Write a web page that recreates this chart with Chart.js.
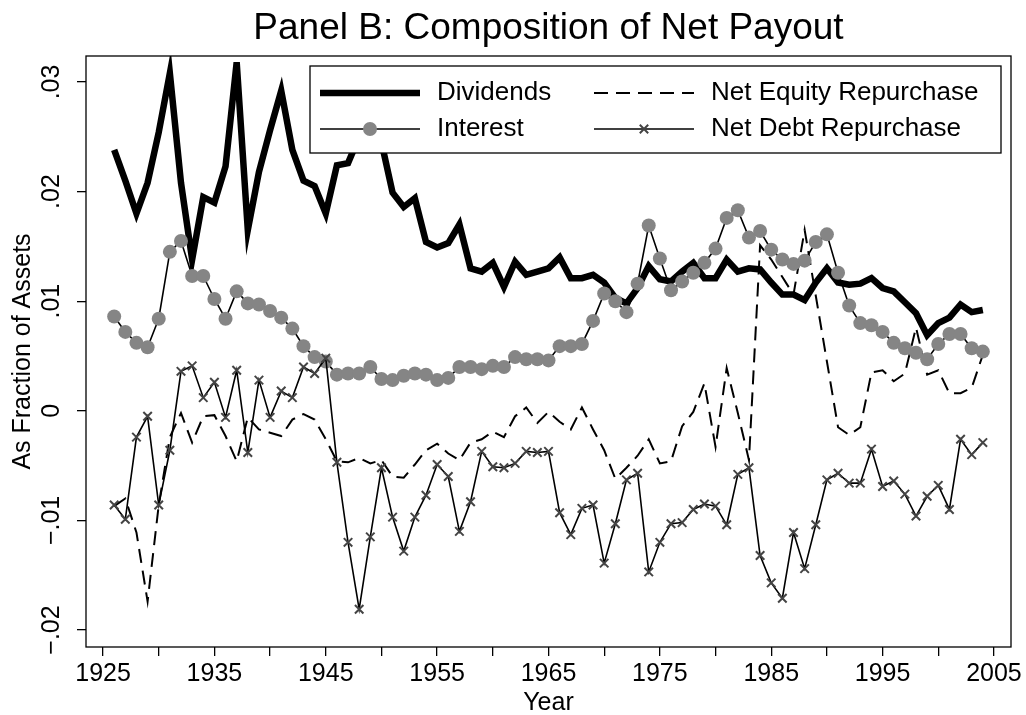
<!DOCTYPE html>
<html>
<head>
<meta charset="utf-8">
<title>Panel B: Composition of Net Payout</title>
<script src="https://cdn.jsdelivr.net/npm/chart.js@4.4.1/dist/chart.umd.min.js"></script>
<style>
  html, body { margin: 0; padding: 0; background: #fff; }
  #wrap { width: 1026px; height: 715px; }
</style>
</head>
<body>
<div id="wrap"><canvas id="payout"></canvas></div>
<script>
document.addEventListener('DOMContentLoaded', function() {
    // Data (fraction of assets)
    const years = [1926, 1927, 1928, 1929, 1930, 1931, 1932, 1933, 1934, 1935,
        1936, 1937, 1938, 1939, 1940, 1941, 1942, 1943, 1944, 1945,
        1946, 1947, 1948, 1949, 1950, 1951, 1952, 1953, 1954, 1955,
        1956, 1957, 1958, 1959, 1960, 1961, 1962, 1963, 1964, 1965,
        1966, 1967, 1968, 1969, 1970, 1971, 1972, 1973, 1974, 1975,
        1976, 1977, 1978, 1979, 1980, 1981, 1982, 1983, 1984, 1985,
        1986, 1987, 1988, 1989, 1990, 1991, 1992, 1993, 1994, 1995,
        1996, 1997, 1998, 1999, 2000, 2001, 2002, 2003, 2004];

    const dividends = [0.0238, 0.0210, 0.0180, 0.0208, 0.0254, 0.0308, 0.0208, 0.0138, 0.0195, 0.0190,
        0.0223, 0.0318, 0.0165, 0.0218, 0.0256, 0.0292, 0.0238, 0.0210, 0.0205, 0.0180,
        0.0224, 0.0226, 0.0250, 0.0270, 0.0245, 0.0199, 0.0186, 0.0194, 0.0154, 0.0149,
        0.0153, 0.0170, 0.0130, 0.0127, 0.0135, 0.0113, 0.0136, 0.0124, 0.0127, 0.0130,
        0.0140, 0.0121, 0.0121, 0.0124, 0.0117, 0.0103, 0.0098, 0.0112, 0.0132, 0.0120,
        0.0118, 0.0127, 0.0135, 0.0121, 0.0121, 0.0138, 0.0127, 0.0130, 0.0129, 0.0117,
        0.0106, 0.0106, 0.0101, 0.0117, 0.0130, 0.0117, 0.0115, 0.0116, 0.0121, 0.0112,
        0.0109, 0.0099, 0.0089, 0.0069, 0.0080, 0.0085, 0.0097, 0.0090, 0.0092];

    const netEquity = [-0.0087, -0.0080, -0.0111, -0.0174, -0.0086, -0.0024, -0.0002, -0.0029, -0.0005, -0.0004,
        -0.0023, -0.0046, -0.0006, -0.0017, -0.0020, -0.0023, -0.0008, -0.0003, -0.0008, -0.0026,
        -0.0046, -0.0047, -0.0043, -0.0048, -0.0045, -0.0060, -0.0061, -0.0049, -0.0036, -0.0030,
        -0.0039, -0.0045, -0.0029, -0.0026, -0.0019, -0.0024, -0.0005, 0.0003, -0.0011, -0.0001,
        -0.0010, -0.0017, 0.0003, -0.0017, -0.0036, -0.0062, -0.0052, -0.0041, -0.0026, -0.0048,
        -0.0046, -0.0014, -0.0001, 0.0025, -0.0033, 0.0039, -0.0002, -0.0045, 0.0151, 0.0138,
        0.0122, 0.0106, 0.0165, 0.0105, 0.0045, -0.0015, -0.0022, -0.0015, 0.0035, 0.0037,
        0.0027, 0.0034, 0.0076, 0.0033, 0.0037, 0.0016, 0.0016, 0.0021, 0.0051];

    const interest = [0.0086, 0.0072, 0.0062, 0.0058, 0.0084, 0.0145, 0.0155, 0.0123, 0.0123, 0.0102,
        0.0084, 0.0109, 0.0098, 0.0097, 0.0091, 0.0085, 0.0075, 0.0059, 0.0049, 0.0045,
        0.0033, 0.0034, 0.0034, 0.0040, 0.0029, 0.0028, 0.0032, 0.0034, 0.0033, 0.0028,
        0.0030, 0.0040, 0.0040, 0.0038, 0.0041, 0.0040, 0.0049, 0.0047, 0.0047, 0.0046,
        0.0059, 0.0059, 0.0061, 0.0082, 0.0107, 0.0100, 0.0090, 0.0116, 0.0169, 0.0139,
        0.0110, 0.0118, 0.0126, 0.0135, 0.0148, 0.0176, 0.0183, 0.0158, 0.0164, 0.0147,
        0.0138, 0.0134, 0.0137, 0.0154, 0.0161, 0.0126, 0.0096, 0.0080, 0.0078, 0.0072,
        0.0062, 0.0057, 0.0053, 0.0047, 0.0061, 0.0070, 0.0070, 0.0057, 0.0054];

    const netDebt = [-0.0086, -0.0099, -0.0024, -0.0005, -0.0086, -0.0036, 0.0036, 0.0041, 0.0012, 0.0026,
        -0.0006, 0.0037, -0.0038, 0.0028, -0.0006, 0.0018, 0.0012, 0.0040, 0.0034, 0.0048,
        -0.0047, -0.0120, -0.0181, -0.0115, -0.0052, -0.0097, -0.0128, -0.0097, -0.0077, -0.0049,
        -0.0060, -0.0110, -0.0083, -0.0037, -0.0051, -0.0052, -0.0048, -0.0037, -0.0038, -0.0037,
        -0.0093, -0.0113, -0.0089, -0.0086, -0.0139, -0.0103, -0.0063, -0.0057, -0.0147, -0.0120,
        -0.0103, -0.0102, -0.0090, -0.0085, -0.0087, -0.0104, -0.0058, -0.0052, -0.0132, -0.0157,
        -0.0171, -0.0111, -0.0144, -0.0104, -0.0063, -0.0057, -0.0066, -0.0066, -0.0035, -0.0069,
        -0.0064, -0.0076, -0.0096, -0.0078, -0.0068, -0.0090, -0.0026, -0.0040, -0.0029];

    const xTicks = [1925, 1930, 1935, 1940, 1945, 1950, 1955, 1960, 1965, 1970, 1975, 1980, 1985, 1990, 1995, 2000, 2005];
    const xTickLabels = ['1925', '', '1935', '', '1945', '', '1955', '', '1965', '', '1975', '', '1985', '', '1995', '', '2005'];
    const yTicks = [-0.02, -0.01, 0, 0.01, 0.02, 0.03];
    const yTickLabels = ['\u2212.02', '\u2212.01', '0', '.01', '.02', '.03'];

    function points(values) {
        return values.map((v, i) => ({ x: years[i], y: v }));
    }

    Chart.defaults.font.family = "'Liberation Sans', Arial, sans-serif";
    Chart.defaults.color = '#000';

    // plot region border
    const framePlugin = {
        id: 'frame',
        afterDatasetsDraw(chart) {
            const { ctx, chartArea: a } = chart;
            ctx.save();
            ctx.strokeStyle = '#000';
            ctx.lineWidth = 1.3;
            ctx.strokeRect(a.left, a.top, a.right - a.left, a.bottom - a.top);
            ctx.restore();
        }
    };

    // Stata-style boxed legend, 2 columns, inside the plot
    const boxLegend = {
        id: 'boxLegend',
        afterDraw(chart) {
            const ctx = chart.ctx;
            const box = { left: 310, top: 66, right: 1001, bottom: 153 };
            const cells = [[320, 93], [594, 93], [320, 129], [594, 129]];
            ctx.save();
            ctx.fillStyle = '#fff';
            ctx.fillRect(box.left, box.top, box.right - box.left, box.bottom - box.top);
            ctx.strokeStyle = '#000';
            ctx.lineWidth = 1.3;
            ctx.strokeRect(box.left, box.top, box.right - box.left, box.bottom - box.top);
            chart.data.datasets.forEach((ds, i) => {
                const [x, y] = cells[i];
                ctx.strokeStyle = ds.borderColor;
                ctx.lineWidth = ds.borderWidth;
                ctx.setLineDash(ds.borderDash || []);
                ctx.beginPath();
                ctx.moveTo(x, y);
                ctx.lineTo(x + 100, y);
                ctx.stroke();
                ctx.setLineDash([]);
                const mx = x + 50;
                if (ds.pointStyle === 'circle') {
                    ctx.fillStyle = ds.pointBackgroundColor;
                    ctx.beginPath();
                    ctx.arc(mx, y, ds.pointRadius, 0, Math.PI * 2);
                    ctx.fill();
                } else if (ds.pointStyle === 'crossRot') {
                    const r = ds.pointRadius * 0.7;
                    ctx.strokeStyle = ds.pointBorderColor;
                    ctx.lineWidth = ds.pointBorderWidth;
                    ctx.beginPath();
                    ctx.moveTo(mx - r, y - r); ctx.lineTo(mx + r, y + r);
                    ctx.moveTo(mx - r, y + r); ctx.lineTo(mx + r, y - r);
                    ctx.stroke();
                }
                ctx.fillStyle = '#000';
                ctx.font = "26px 'Liberation Sans', Arial, sans-serif";
                ctx.textBaseline = 'middle';
                ctx.textAlign = 'left';
                ctx.fillText(ds.label, x + 117, y);
            });
            ctx.restore();
        }
    };

    const ctx = document.getElementById('payout').getContext('2d');

    new Chart(ctx, {
        type: 'line',
        data: {
            datasets: [{
                label: 'Dividends',
                data: points(dividends),
                borderColor: '#000',
                borderWidth: 6.5,
                pointRadius: 0,
                clip: 0,
                order: 4
            }, {
                label: 'Net Equity Repurchase',
                data: points(netEquity),
                borderColor: '#000',
                borderWidth: 2,
                borderDash: [14, 8],
                pointRadius: 0,
                order: 3
            }, {
                label: 'Interest',
                data: points(interest),
                borderColor: '#000',
                borderWidth: 1.6,
                pointStyle: 'circle',
                pointRadius: 7,
                pointBackgroundColor: '#858585',
                pointBorderColor: '#858585',
                pointBorderWidth: 0,
                order: 2
            }, {
                label: 'Net Debt Repurchase',
                data: points(netDebt),
                borderColor: '#000',
                borderWidth: 1.6,
                pointStyle: 'crossRot',
                pointRadius: 6,
                pointBorderColor: '#444',
                pointBorderWidth: 2,
                order: 1
            }]
        },
        options: {
            responsive: true,
            maintainAspectRatio: false,
            animation: false,
            layout: { padding: { top: 0, right: 15, bottom: 0, left: 0 } },
            plugins: {
                legend: { display: false },
                tooltip: { enabled: false },
                title: {
                    display: true,
                    fullSize: false,
                    text: 'Panel B: Composition of Net Payout',
                    color: '#000',
                    font: { size: 37, weight: 'normal' },
                    padding: { top: 7, bottom: 4.6 }
                }
            },
            scales: {
                x: {
                    type: 'linear',
                    min: 1923.47,
                    max: 2006.53,
                    afterBuildTicks: s => { s.ticks = xTicks.map(v => ({ value: v })); },
                    afterFit: s => { s.height = 68; s.paddingLeft = 0; s.paddingRight = 0; },
                    ticks: {
                        autoSkip: false,
                        maxRotation: 0,
                        color: '#000',
                        font: { size: 25 },
                        padding: 3,
                        callback: (v, i) => xTickLabels[i]
                    },
                    grid: { drawOnChartArea: false, drawTicks: true, tickLength: 9, color: '#000', lineWidth: 1.3 },
                    border: { display: false },
                    title: { display: true, text: 'Year', color: '#000', font: { size: 25 }, padding: { top: 0, bottom: -3 } }
                },
                y: {
                    type: 'linear',
                    min: -0.02155,
                    max: 0.03237,
                    afterBuildTicks: s => { s.ticks = yTicks.map(v => ({ value: v })); },
                    afterFit: s => { s.width = 86; s.paddingTop = 0; s.paddingBottom = 0; },
                    ticks: {
                        minRotation: 90,
                        maxRotation: 90,
                        crossAlign: 'center',
                        color: '#000',
                        font: { size: 25 },
                        padding: 0,
                        callback: (v, i) => yTickLabels[i]
                    },
                    grid: { drawOnChartArea: false, drawTicks: true, tickLength: 9, color: '#000', lineWidth: 1.3 },
                    border: { display: false },
                    title: { display: true, text: 'As Fraction of Assets', color: '#000', font: { size: 25 }, padding: { top: 8, bottom: 0 } }
                }
            }
        },
        plugins: [framePlugin, boxLegend]
    });
});
</script>
</body>
</html>
